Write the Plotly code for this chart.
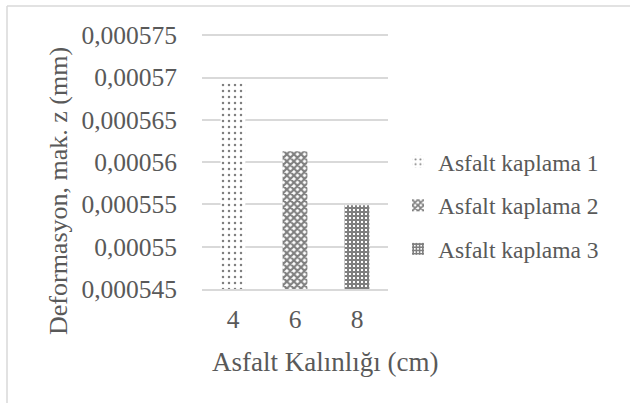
import plotly.graph_objects as go

categories = ["4", "6", "8"]
series_names = ["Asfalt kaplama 1", "Asfalt kaplama 2", "Asfalt kaplama 3"]
values = [0.0005693, 0.0005613, 0.0005549]
y_tickvals = [0.000545, 0.00055, 0.000555, 0.00056, 0.000565, 0.00057, 0.000575]
y_ticktext = ["0,000545", "0,00055", "0,000555", "0,00056", "0,000565", "0,00057", "0,000575"]

patterns = [
    dict(shape=".", size=6, solidity=0.14, fgcolor="black", bgcolor="white"),
    dict(shape="x", size=5, solidity=0.65, fgcolor="black", bgcolor="white"),
    dict(shape="+", size=4, solidity=0.75, fgcolor="black", bgcolor="white"),
]

FONT = "Liberation Serif"
GRAY = "#595959"

fig = go.Figure()
for i, (name, cat, val) in enumerate(zip(series_names, categories, values)):
    fig.add_trace(go.Bar(
        x=[cat], y=[val], name=name, width=0.4,
        legendgroup=name,
        marker=dict(color="white", pattern=patterns[i], line=dict(width=0)),
    ))

W, H = 630, 403
ml, mr, mt, mb = 202, 242, 34, 114
pw, ph = W - ml - mr, H - mt - mb

def px(x):
    return (x - ml) / pw

def py(y):
    return (H - mb - y) / ph

fig.update_layout(
    width=W, height=H,
    margin=dict(l=ml, r=mr, t=mt, b=mb, autoexpand=False),
    paper_bgcolor="white", plot_bgcolor="white",
    barmode="overlay",
    font=dict(family=FONT, color=GRAY, size=23),
    showlegend=True,
    legend=dict(x=px(398), y=py(140), xanchor="left", yanchor="top",
                font=dict(size=23.5, color=GRAY, family=FONT),
                tracegroupgap=10, itemwidth=30, bgcolor="rgba(0,0,0,0)"),
    xaxis=dict(type="category", categoryorder="array", categoryarray=categories,
               showgrid=False, showline=True, linecolor="#d9d9d9", linewidth=1.5,
               ticks="", tickfont=dict(size=25.5, color=GRAY, family=FONT),
               ticklabelstandoff=7),
    yaxis=dict(range=[0.000545, 0.00057515], tickvals=y_tickvals, ticktext=y_ticktext,
               showgrid=True, gridcolor="#d9d9d9", gridwidth=1.5,
               zeroline=False, showline=False, ticks="",
               tickfont=dict(size=25.5, color=GRAY, family=FONT),
               ticklabelstandoff=24),
    annotations=[
        dict(text="Deformasyon, mak. z (mm)", xref="paper", yref="paper",
             x=px(58), y=py(191), textangle=-90, showarrow=False,
             xanchor="center", yanchor="middle",
             font=dict(size=26, color=GRAY, family=FONT)),
        dict(text="Asfalt Kalınlığı (cm)", xref="paper", yref="paper",
             x=px(325), y=py(362), showarrow=False,
             xanchor="center", yanchor="middle",
             font=dict(size=27, color=GRAY, family=FONT)),
    ],
    shapes=[
        dict(type="line", xref="paper", yref="paper", x0=px(7), x1=px(640),
             y0=py(6), y1=py(6), line=dict(color="#d9d9d9", width=1.5)),
        dict(type="line", xref="paper", yref="paper", x0=px(7), x1=px(7),
             y0=py(6), y1=py(420), line=dict(color="#d9d9d9", width=1.5)),
    ],
)

fig.write_html("out.html", config={"displayModeBar": False},
               post_script="document.body.style.margin='0';")
